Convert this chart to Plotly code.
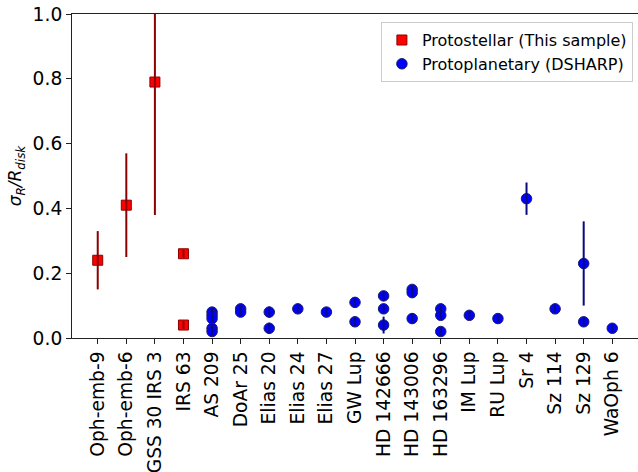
import plotly.graph_objects as go

categories = ["Oph-emb-9", "Oph-emb-6", "GSS 30 IRS 3", "IRS 63", "AS 209", "DoAr 25",
              "Elias 20", "Elias 24", "Elias 27", "GW Lup", "HD 142666", "HD 143006",
              "HD 163296", "IM Lup", "RU Lup", "Sr 4", "Sz 114", "Sz 129", "WaOph 6"]

# Protostellar (This sample)
proto_names = ["Oph-emb-9", "Oph-emb-6", "GSS 30 IRS 3", "IRS 63", "IRS 63"]
proto_vals = [0.24, 0.41, 0.79, 0.26, 0.04]
proto_errs = [0.09, 0.16, 0.41, 0.012, 0.012]

# Protoplanetary (DSHARP)
dsharp_names = ["AS 209", "AS 209", "AS 209", "AS 209", "AS 209",
                "DoAr 25", "DoAr 25",
                "Elias 20", "Elias 20",
                "Elias 24",
                "Elias 27",
                "GW Lup", "GW Lup",
                "HD 142666", "HD 142666", "HD 142666",
                "HD 143006", "HD 143006", "HD 143006",
                "HD 163296", "HD 163296", "HD 163296",
                "IM Lup", "RU Lup", "Sr 4", "Sz 114",
                "Sz 129", "Sz 129", "WaOph 6"]
dsharp_vals = [0.08, 0.07, 0.06, 0.03, 0.02,
               0.09, 0.08,
               0.08, 0.03,
               0.09,
               0.08,
               0.11, 0.05,
               0.13, 0.09, 0.04,
               0.15, 0.14, 0.06,
               0.09, 0.07, 0.02,
               0.07, 0.06, 0.43, 0.09,
               0.23, 0.05, 0.03]
dsharp_errs = [0.012, 0.012, 0.012, 0.012, 0.012,
               0.012, 0.012,
               0.017, 0.017,
               0.012,
               0.012,
               0.012, 0.012,
               0.015, 0.012, 0.026,
               0.012, 0.015, 0.015,
               0.012, 0.012, 0.012,
               0.012, 0.012, 0.05, 0.012,
               0.13, 0.012, 0.012]

idx = {c: i for i, c in enumerate(categories)}
px_ = [idx[n] for n in proto_names]
dx_ = [idx[n] for n in dsharp_names]


def err_segments(xs, vals, errs):
    sx, sy = [], []
    for x, v, e in zip(xs, vals, errs):
        sx += [x, x, None]
        sy += [v - e, v + e, None]
    return sx, sy


RED_ERR = "#8B0000"
BLUE_ERR = "#0A0A80"

fig = go.Figure()

fig.add_trace(go.Scatter(
    x=px_, y=proto_vals, mode="markers", name="Protostellar (This sample)",
    marker=dict(symbol="square", size=10, color="#FF0000", line=dict(color=RED_ERR, width=1)),
))
ex, ey = err_segments(px_, proto_vals, proto_errs)
fig.add_trace(go.Scatter(
    x=ex, y=ey, mode="lines", showlegend=False, hoverinfo="skip",
    line=dict(color=RED_ERR, width=2),
))

fig.add_trace(go.Scatter(
    x=dx_, y=dsharp_vals, mode="markers", name="Protoplanetary (DSHARP)",
    marker=dict(symbol="circle", size=10.5, color="#0000FF", line=dict(color="#1a1a6e", width=1)),
))
ex, ey = err_segments(dx_, dsharp_vals, dsharp_errs)
fig.add_trace(go.Scatter(
    x=ex, y=ey, mode="lines", showlegend=False, hoverinfo="skip",
    line=dict(color=BLUE_ERR, width=2),
))

axis_common = dict(
    showgrid=False, zeroline=False, showline=True, linecolor="#222", linewidth=1,
    ticks="outside", ticklen=5, tickwidth=1, tickcolor="#222", mirror=True,
    tickfont=dict(family="DejaVu Sans", size=18.67, color="black"),
)

fig.update_xaxes(
    range=[-0.9, 18.9], tickmode="array", tickvals=list(range(len(categories))),
    ticktext=categories, tickangle=-90, **axis_common,
)
fig.update_yaxes(
    range=[0, 1.0], tickmode="array", tickvals=[0, 0.2, 0.4, 0.6, 0.8, 1.0],
    ticktext=["0.0", "0.2", "0.4", "0.6", "0.8", "1.0"],
    title=dict(text="<i>σ<sub>R</sub>/R<sub>disk</sub></i>",
               font=dict(family="DejaVu Sans", size=17, color="black"), standoff=6),
    **axis_common,
)

fig.update_layout(
    width=638, height=472,
    margin=dict(l=72, r=0, t=14, b=134),
    plot_bgcolor="white", paper_bgcolor="white",
    font=dict(family="DejaVu Sans", color="black"),
    legend=dict(
        x=0.991, y=0.975, xanchor="right", yanchor="top",
        bgcolor="rgba(255,255,255,0.8)", bordercolor="#cccccc", borderwidth=1,
        font=dict(family="DejaVu Sans", size=16, color="black"),
        itemwidth=30, tracegroupgap=0,
    ),
    showlegend=True,
)

fig.write_html("out.html")
